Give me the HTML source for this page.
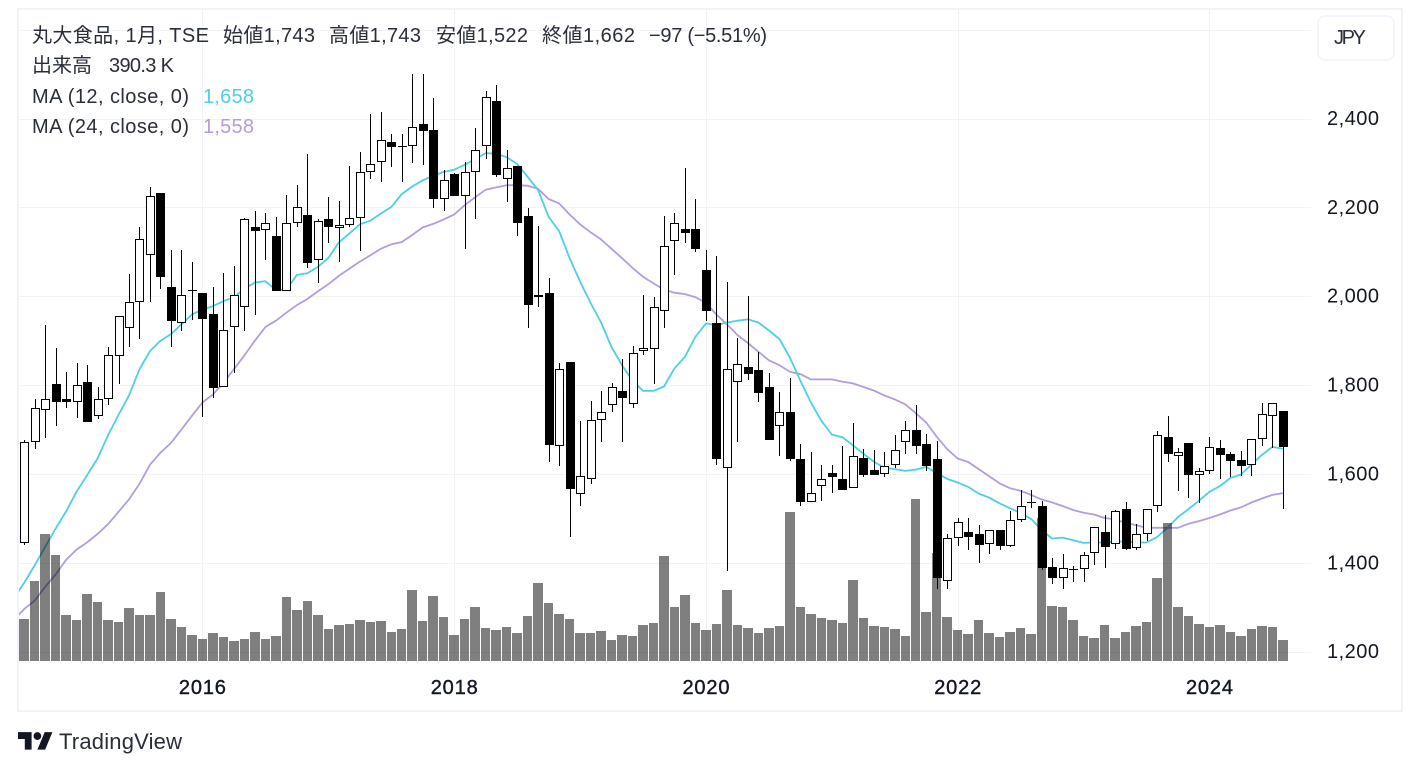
<!DOCTYPE html>
<html lang="ja">
<head>
<meta charset="utf-8">
<title>丸大食品 1月 TSE</title>
<style>
html,body{margin:0;padding:0;background:#fff;width:1420px;height:772px;overflow:hidden}
svg{display:block}
text{font-family:"Liberation Sans","Noto Sans CJK JP",sans-serif;font-size:20px;fill:#2a2e39}
.cjk{font-family:"Noto Sans CJK JP","Liberation Sans",sans-serif;font-size:20px}
</style>
</head>
<body>
<svg id="chart" width="1420" height="772" viewBox="0 0 1420 772" xmlns="http://www.w3.org/2000/svg">
<defs><clipPath id="pane-clip"><rect x="19" y="10" width="1292" height="651"/></clipPath></defs>
<rect x="18" y="9" width="1384" height="702" fill="#fff" stroke="#f0f3fa" stroke-width="2"/>
<g id="grid"></g>
<g clip-path="url(#pane-clip)">
<g id="lines"></g>
<g id="volume"></g>
<g id="candles"></g>
</g>
<g id="price-axis"></g>
<g id="time-axis"></g>

<g>
<text x="32" y="42" textLength="177" lengthAdjust="spacing"><tspan class="cjk">丸大食品</tspan>, 1<tspan class="cjk">月</tspan>, TSE</text>
<text x="223" y="42" textLength="92" lengthAdjust="spacing"><tspan class="cjk">始値</tspan>1,743</text>
<text x="329" y="42" textLength="92" lengthAdjust="spacing"><tspan class="cjk">高値</tspan>1,743</text>
<text x="436" y="42" textLength="92" lengthAdjust="spacing"><tspan class="cjk">安値</tspan>1,522</text>
<text x="542" y="42" textLength="93" lengthAdjust="spacing"><tspan class="cjk">終値</tspan>1,662</text>
<text x="649" y="42" textLength="118" lengthAdjust="spacing">−97 (−5.51%)</text>
<text class="cjk" x="32" y="72">出来高</text>
<text x="109" y="72" textLength="65" lengthAdjust="spacing">390.3 K</text>
<text x="32" y="103" textLength="157" lengthAdjust="spacing">MA (12, close, 0)</text>
<text x="203" y="103" textLength="51" lengthAdjust="spacing" style="fill:#4dd0e1">1,658</text>
<text x="32" y="133" textLength="157" lengthAdjust="spacing">MA (24, close, 0)</text>
<text x="203" y="133" textLength="51" lengthAdjust="spacing" style="fill:#b39ddb">1,558</text>
</g>

<g>
<rect x="1318" y="16" width="76" height="44" rx="7" fill="#fff" stroke="#f0f3fa" stroke-width="1.5"/>
<text x="1334" y="44" textLength="32" lengthAdjust="spacing">JPY</text>
</g>

<g>
<g transform="translate(18,728.3) scale(0.97)" fill="#131722">
<path d="M14 22H7V11H0V4h14v18zM28 22h-8l7.5-18h8L28 22z"/>
<circle cx="20" cy="8" r="4"/>
</g>
<text x="59" y="749" textLength="123" lengthAdjust="spacing" style="font-size:22px;fill:#2a2e39">TradingView</text>
</g>
</svg>

<script>
// Monthly bars, July 2014 – August 2024. The first month has only volume and MA values visible.
const startYear = 2014;
const startMonth = 7;
const priceTicks = [2400, 2200, 2000, 1800, 1600, 1400, 1200];
const gridOnlyPrices = [2600];
const yearTicks = [2016, 2018, 2020, 2022, 2024];

const opens = [null,
1445,1672,1744,1804,1770,1764,1808,1731,1769,1866,
1929,1988,2095,2234,2021,1942,2016,2008,1961,1796,
1933,1976,2157,2150,2137,2012,2165,2185,2082,2174,
2155,2161,2178,2281,2303,2348,2339,2339,2388,2375,
2220,2277,2226,2280,2339,2441,2266,2295,2182,1999,
2008,1663,1854,1555,1589,1722,1756,1788,1758,1877,
1883,1969,2125,2153,2153,2060,1941,1614,1807,1842,
1835,1797,1708,1741,1635,1539,1575,1603,1590,1569,
1637,1610,1600,1621,1672,1700,1669,1635,1361,1456,
1471,1467,1443,1476,1438,1497,1535,1530,1391,1367,
1387,1387,1423,1470,1443,1523,1434,1467,1530,1685,
1641,1671,1598,1608,1659,1645,1632,1621,1679,1731,1743];

const highs = [null,
1677,1770,1937,1885,1831,1851,1847,1797,1887,1956,
2051,2157,2248,2234,2106,2106,2079,2008,2022,2053,
2069,2178,2193,2189,2179,2229,2252,2321,2175,2225,
2216,2295,2326,2411,2416,2367,2367,2502,2502,2447,
2285,2279,2303,2380,2463,2477,2331,2295,2200,2159,
2043,1850,1854,1720,1765,1788,1806,1860,1889,2004,
2000,2182,2189,2290,2220,2106,2092,2033,1907,2002,
1875,1828,1786,1818,1669,1650,1622,1622,1664,1716,
1658,1656,1650,1689,1720,1756,1692,1676,1466,1502,
1502,1487,1476,1476,1518,1566,1565,1540,1412,1421,
1393,1425,1481,1509,1519,1537,1488,1523,1698,1732,
1660,1671,1614,1685,1678,1650,1653,1679,1761,1760,1743];

const lows = [null,
1442,1657,1681,1708,1750,1728,1717,1724,1757,1803,
1887,1906,1989,2018,1887,1924,1948,1729,1771,1796,
1829,1922,1960,2083,2012,2012,2158,2065,2032,2120,
2079,2158,2104,2264,2259,2291,2259,2300,2296,2199,
2194,2226,2108,2176,2309,2269,2214,2136,1929,1978,
1629,1618,1460,1528,1578,1672,1740,1672,1750,1870,
1803,1929,2048,2122,2100,1945,1622,1383,1674,1813,
1764,1677,1641,1631,1528,1539,1541,1559,1564,1569,
1594,1598,1594,1614,1647,1647,1607,1343,1343,1440,
1430,1401,1421,1429,1436,1494,1525,1385,1354,1342,
1357,1359,1396,1389,1432,1431,1431,1450,1516,1629,
1562,1548,1535,1600,1590,1594,1597,1597,1665,1660,1522];

const closes = [null,
1672,1749,1769,1764,1764,1801,1719,1769,1868,1956,
1988,2129,2226,2044,1946,2003,2016,1951,1795,1925,
2003,2174,2148,2165,2012,2165,2201,2077,2170,2156,
2161,2178,2280,2298,2352,2338,2339,2383,2374,2219,
2263,2226,2280,2330,2449,2275,2289,2167,1981,2003,
1667,1837,1568,1596,1722,1740,1796,1773,1873,1884,
1976,2115,2165,2143,2107,1967,1634,1837,1848,1827,
1784,1678,1740,1634,1539,1558,1589,1594,1564,1641,
1599,1598,1620,1655,1699,1663,1618,1368,1456,1494,
1460,1442,1476,1438,1497,1530,1539,1390,1366,1389,
1387,1418,1481,1436,1517,1433,1467,1522,1688,1647,
1650,1598,1608,1661,1643,1631,1620,1679,1735,1760,1662];

const volumes = [520,
781,1489,2364,1973,853,766,1243,1099,766,723,
983,853,853,1279,781,636,484,412,520,448,
376,412,542,412,463,1193,947,1113,853,593,
672,687,766,723,744,542,593,1323,744,1207,
817,484,781,1005,614,578,636,520,838,1453,
1077,875,781,520,520,557,390,484,463,672,
708,1952,1005,1229,708,578,687,1323,672,614,
520,614,651,2768,1005,875,802,766,708,1503,
802,651,636,593,463,3014,911,2009,817,578,
506,766,520,448,542,614,506,2660,1026,1005,
766,463,426,672,426,542,651,723,1540,2566,
1005,838,687,636,672,542,463,593,651,636,390];

const ma12 = [1320,
1356,1395,1437,1478,1517,1561,1598,1636,1688,1734,
1778,1837,1878,1901,1916,1938,1960,1971,1979,1990,
1999,2018,2032,2035,2015,2016,2049,2053,2067,2087,
2122,2142,2163,2171,2187,2202,2231,2248,2262,2272,
2281,2286,2297,2310,2323,2322,2314,2299,2270,2240,
2180,2148,2087,2034,1986,1942,1887,1846,1811,1788,
1788,1798,1839,1865,1910,1940,1936,1942,1946,1949,
1942,1924,1905,1863,1811,1762,1721,1690,1684,1666,
1647,1629,1615,1612,1608,1611,1617,1603,1590,1582,
1572,1557,1548,1535,1524,1513,1500,1475,1456,1458,
1452,1446,1447,1447,1449,1449,1447,1447,1459,1480,
1504,1522,1541,1561,1574,1592,1600,1622,1644,1662,1658];

const ma24 = [1272,
1297,1316,1347,1375,1408,1431,1447,1466,1488,1516,
1544,1579,1622,1649,1671,1701,1732,1762,1780,1806,
1837,1868,1901,1932,1946,1964,1981,1995,2012,2028,
2047,2063,2079,2093,2108,2118,2123,2139,2156,2164,
2174,2185,2206,2224,2241,2246,2251,2251,2250,2243,
2220,2210,2185,2163,2145,2129,2108,2087,2065,2045,
2030,2016,2009,2006,1999,1986,1960,1938,1914,1896,
1876,1857,1846,1831,1826,1814,1814,1814,1809,1805,
1797,1789,1778,1769,1758,1738,1717,1685,1657,1636,
1628,1612,1596,1580,1569,1563,1554,1544,1537,1529,
1520,1514,1510,1502,1499,1491,1486,1480,1480,1480,
1480,1489,1495,1502,1510,1519,1526,1537,1546,1554,1558];

const NS = 'http://www.w3.org/2000/svg';
function xOfBar(i) { return 13.61 + 10.49 * i; }
function yOfPrice(p) { return 119 + (2400 - p) * 0.44435; }
function yOfVolume(v) { return 661 - v * 0.05384; }
function barIndexOfYear(year) { return (year - startYear) * 12 + (1 - startMonth); }
function mk(tag, parent, attrs) {
  const el = document.createElementNS(NS, tag);
  for (const k in attrs) el.setAttribute(k, attrs[k]);
  parent.appendChild(el);
  return el;
}

const gridG = document.getElementById('grid');
[...gridOnlyPrices, ...priceTicks].forEach(p => {
  const y = Math.floor(yOfPrice(p));
  const el = mk('rect', gridG, {x: 19, y: y, width: 1292, height: 1, fill: '#f2f3f5'});
  
  
});
yearTicks.forEach(yr => {
  const x = Math.round(xOfBar(barIndexOfYear(yr)));
  const el = mk('rect', gridG, {x: x, y: 10, width: 1, height: 651, fill: '#f2f3f5'});
  
  
});

function drawLine(values, color, name) {
  const pts = values.map((v, i) => xOfBar(i).toFixed(1) + ',' + yOfPrice(v).toFixed(1)).join(' ');
  const el = mk('polyline', document.getElementById('lines'), {points: pts, fill: 'none', stroke: color, 'stroke-width': 1.8, 'stroke-linejoin': 'round'});
  
  
}
drawLine(ma24, '#b39ddb', 'ma24-line');
drawLine(ma12, '#4dd0e1', 'ma12-line');

const volG = document.getElementById('volume');
volumes.forEach((v, i) => {
  const left = Math.ceil(xOfBar(i) - 5.245);
  const right = Math.floor(xOfBar(i) + 5.245);
  const top = Math.round(yOfVolume(v));
  const el = mk('rect', volG, {x: left, y: top, width: right - left, height: 661 - top, fill: 'rgba(0,0,0,0.5)', 'shape-rendering': 'crispEdges'});
  
  
});

const candleG = document.getElementById('candles');
opens.forEach((o, i) => {
  if (o === null) return;
  const c = closes[i];
  const cx = Math.round(xOfBar(i));
  const yHigh = Math.round(yOfPrice(highs[i]));
  const yLow = Math.round(yOfPrice(lows[i]));
  const yTop = Math.round(yOfPrice(Math.max(o, c)));
  const yBot = Math.max(Math.round(yOfPrice(Math.min(o, c))), yTop + 1);
  const g = mk('g', candleG, {'shape-rendering': 'crispEdges'});
  
  
  mk('rect', g, {x: cx, y: yHigh, width: 1, height: Math.max(yLow - yHigh, 1), fill: '#000'});
  mk('rect', g, {x: cx - 4, y: yTop, width: 9, height: yBot - yTop, fill: '#000'});
  if (c > o && yBot - yTop > 2) {
    mk('rect', g, {x: cx - 3, y: yTop + 1, width: 7, height: yBot - yTop - 2, fill: '#fff'});
  }
});

const priceG = document.getElementById('price-axis');
priceTicks.forEach(p => {
  const t = mk('text', priceG, {x: 1327, y: yOfPrice(p) + 6, textLength: 52, lengthAdjust: 'spacing', style: 'fill:#131722'});
  t.textContent = p.toLocaleString('en-US');
  
  
});

const timeG = document.getElementById('time-axis');
yearTicks.forEach(yr => {
  const t = mk('text', timeG, {x: xOfBar(barIndexOfYear(yr)), y: 694, 'text-anchor': 'middle', textLength: 47, lengthAdjust: 'spacing', style: 'font-size:20px;fill:#131722;stroke:#131722;stroke-width:0.4'});
  t.textContent = String(yr);
  
  
});
</script>
</body>
</html>
